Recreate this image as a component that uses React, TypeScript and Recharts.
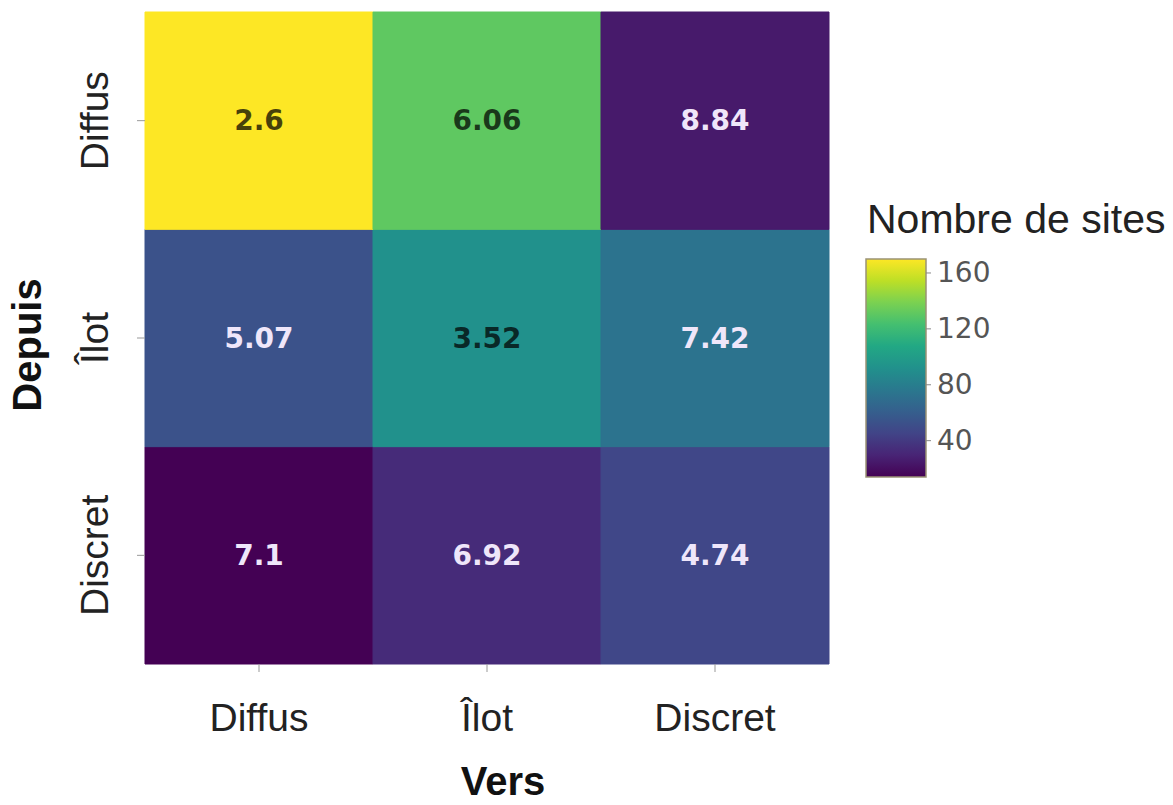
import React from "react";
import { Bar, BarChart, Cell, LabelList, XAxis, YAxis } from "recharts";

// columns = "Vers", rows = "Depuis"
const versCategories = ["Diffus", "Îlot", "Discret"];
const depuisCategories = ["Diffus", "Îlot", "Discret"];

// colour value: Nombre de sites (rows = depuis, cols = vers)
const siteCounts = [
  [170, 131, 25],
  [53, 92, 73],
  [14, 33, 47],
];

// numbers printed inside the cells
const cellLabels = [
  ["2.6", "6.06", "8.84"],
  ["5.07", "3.52", "7.42"],
  ["7.1", "6.92", "4.74"],
];

const colorbarTicks = [40, 80, 120, 160];

const VIRIDIS = [
  "#440154", "#482475", "#414487", "#355f8d", "#2a788e", "#21918c",
  "#22a884", "#44bf70", "#7ad151", "#bddf26", "#fde725",
];

const FONT = "'Liberation Sans', Arial, sans-serif";
const allCounts = siteCounts.flat();
const cMin = Math.min(...allCounts);
const cMax = Math.max(...allCounts);

function hexToRgb(h: string) {
  const n = parseInt(h.slice(1), 16);
  return [(n >> 16) & 255, (n >> 8) & 255, n & 255];
}

function viridis(v: number): string {
  const t = Math.max(0, Math.min(1, (v - cMin) / (cMax - cMin)));
  const pos = t * (VIRIDIS.length - 1);
  const i = Math.min(Math.floor(pos), VIRIDIS.length - 2);
  const f = pos - i;
  const a = hexToRgb(VIRIDIS[i]);
  const b = hexToRgb(VIRIDIS[i + 1]);
  const c = a.map((x, k) => Math.round(x + (b[k] - x) * f));
  return `rgb(${c[0]},${c[1]},${c[2]})`;
}

// one stacked band per "depuis" row, each one unit tall
const chartData = versCategories.map((vers) => {
  const row: Record<string, string | number> = { vers };
  depuisCategories.forEach((_, r) => (row["r" + r] = 1));
  return row;
});

const yTicks = depuisCategories.map((_, i) => depuisCategories.length - 0.5 - i);

function XTick(props: any) {
  const { x, y, payload } = props;
  return (
    <text x={x} y={y + 57} textAnchor="middle" fontSize={39} fontFamily={FONT} fill="#222">
      {payload.value}
    </text>
  );
}

function YTick(props: any) {
  const { y, payload } = props;
  const idx = Math.round(depuisCategories.length - 0.5 - payload.value);
  const bx = 108;
  return (
    <text
      x={bx}
      y={y}
      textAnchor="middle"
      fontSize={39}
      fontFamily={FONT}
      fill="#222"
      transform={`rotate(-90, ${bx}, ${y})`}
    >
      {depuisCategories[idx]}
    </text>
  );
}

function cellLabel(row: number) {
  return (props: any) => {
    const { x, y, width, height, index } = props;
    const t = (siteCounts[row][index] - cMin) / (cMax - cMin);
    const dark = t > 0.45;
    return (
      <text
        x={x + width / 2}
        y={y + height / 2}
        textAnchor="middle"
        dominantBaseline="central"
        fontSize={28}
        fontWeight="bold"
        fontFamily="'DejaVu Sans', Verdana, sans-serif"
        fill={dark ? "#000" : "#efe6fa"}
        fillOpacity={dark ? 0.72 : 1}
      >
        {cellLabels[row][index]}
      </text>
    );
  };
}

function ColorBar() {
  const bx = 866;
  const by = 259;
  const bw = 60;
  const bh = 218;
  const yOf = (v: number) => by + bh - ((v - cMin) / (cMax - cMin)) * bh;
  return (
    <svg width={1173} height={805} style={{ position: "absolute", left: 0, top: 0, pointerEvents: "none" }}>
      <defs>
        <linearGradient id="vir" x1="0" y1="1" x2="0" y2="0">
          {VIRIDIS.map((c, i) => (
            <stop key={i} offset={i / (VIRIDIS.length - 1)} stopColor={c} />
          ))}
        </linearGradient>
      </defs>
      <text x={867} y={233} fontSize={41} fontFamily={FONT} fill="#222">
        Nombre de sites
      </text>
      <rect x={bx} y={by} width={bw} height={bh} fill="url(#vir)" stroke="#9a9275" strokeWidth={1.5} />
      {colorbarTicks.map((t) => (
        <g key={t}>
          <line x1={bx + bw} x2={bx + bw + 5} y1={yOf(t)} y2={yOf(t)} stroke="#888" />
          <text
            x={bx + bw + 11}
            y={yOf(t)}
            dominantBaseline="central"
            fontSize={28}
            fontFamily="'DejaVu Sans', Verdana, sans-serif"
            fill="#555"
          >
            {t}
          </text>
        </g>
      ))}
    </svg>
  );
}

export default function App() {
  return (
    <div style={{ position: "absolute", left: 0, top: 0, width: 1173, height: 805, background: "#fff" }}>
      <BarChart
        width={1173}
        height={805}
        data={chartData}
        margin={{ top: 12, right: 344, bottom: 0, left: 0 }}
        barCategoryGap={0}
        barGap={0}
      >
        <XAxis
          dataKey="vers"
          height={141}
          interval={0}
          axisLine={false}
          tickSize={8}
          tickLine={{ stroke: "#999" }}
          tick={<XTick />}
          label={{
            content: (p: any) => {
              const vb = p.viewBox;
              return (
                <text
                  x={vb.x + vb.width / 2 + 16}
                  y={vb.y + vb.height - 10}
                  textAnchor="middle"
                  fontSize={40}
                  fontWeight="bold"
                  fontFamily={FONT}
                  fill="#111"
                >
                  Vers
                </text>
              );
            },
          }}
        />
        <YAxis
          type="number"
          domain={[0, depuisCategories.length]}
          ticks={yTicks}
          width={145}
          axisLine={false}
          tickSize={8}
          tickLine={{ stroke: "#999" }}
          tick={<YTick />}
          label={{
            content: (p: any) => {
              const vb = p.viewBox;
              const cy = vb.y + vb.height / 2 + 7;
              return (
                <text
                  x={41}
                  y={cy}
                  textAnchor="middle"
                  fontSize={40}
                  fontWeight="bold"
                  fontFamily={FONT}
                  fill="#111"
                  transform={`rotate(-90, 41, ${cy})`}
                >
                  Depuis
                </text>
              );
            },
          }}
        />
        {depuisCategories
          .map((_, r) => r)
          .reverse()
          .map((r) => (
            <Bar key={r} dataKey={"r" + r} stackId="heat" isAnimationActive={false}>
              {versCategories.map((_, c) => (
                <Cell key={c} fill={viridis(siteCounts[r][c])} stroke={viridis(siteCounts[r][c])} strokeWidth={1} />
              ))}
              <LabelList dataKey={"r" + r} content={cellLabel(r)} />
            </Bar>
          ))}
      </BarChart>
      <ColorBar />
    </div>
  );
}
